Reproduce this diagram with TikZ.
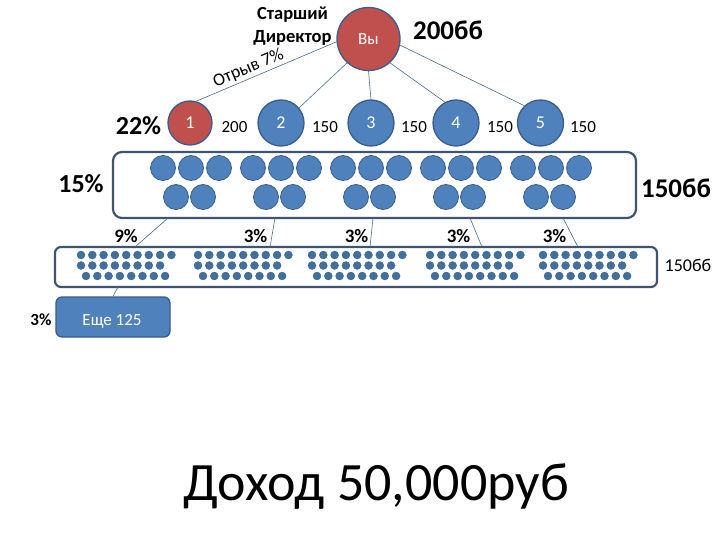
\documentclass[tikz,border=0pt]{standalone}
\usepackage{fontspec}
\setmainfont{Carlito}
\definecolor{cblue}{HTML}{4F81BD}
\definecolor{cborder}{HTML}{385D8A}
\definecolor{cred}{HTML}{C0504D}
\definecolor{boxline}{HTML}{3E5572}
\definecolor{dotblue}{HTML}{41709F}
\definecolor{conn}{HTML}{4A6C93}
\begin{document}
\begin{tikzpicture}[x=1pt,y=-1pt,
  bigc/.style={circle, draw=cborder, line width=1.3pt, fill=cblue, minimum size=#1, inner sep=0pt, text=white, font=\fontsize{18}{18}\selectfont},
  bigc/.default=46pt,
  redc/.style={bigc=#1, fill=cred},
  redc/.default=44pt,
  rowbox/.style={draw=boxline, line width=2.2pt, fill=white, inner sep=0pt},
  smallc/.style={draw=cborder, line width=0.8pt, fill=cblue},
  dot/.style={fill=dotblue, draw=cborder, line width=0.3pt},
  conn/.style={draw=conn, line width=0.6pt},
  lbl/.style={anchor=base, inner sep=0pt},
]
\useasboundingbox (0,0) rectangle (720,540);
\fill[white] (0,0) rectangle (720,540);

% top
\node[redc=63pt, font=\fontsize{17}{17}\selectfont] (vy) at (368.5,39) {Вы};
\node[lbl, font=\bfseries\fontsize{18.5}{18.5}\selectfont] (t1) at (292.5,20) {Старший};
\node[lbl, font=\bfseries\fontsize{18.5}{18.5}\selectfont] (t2) at (292.5,43) {Директор};
\node[lbl, font=\bfseries\fontsize{27}{27}\selectfont] (pts) at (448,40) {200бб};

% second level circles
\node[redc] (c1) at (190,123) {1};
\node[bigc] (c2) at (281,123) {2};
\node[bigc] (c3) at (371,123) {3};
\node[bigc] (c4) at (456,123) {4};
\node[bigc] (c5) at (540.5,123) {5};

\draw[conn] (vy.185) -- (c1.74) node[pos=0.6, above=2pt, sloped, font=\fontsize{18}{18}\selectfont, inner sep=0pt] (gap) {Отрыв 7\%};
\draw[conn] (vy.228) -- (c2.40);
\draw[conn] (vy.south) -- (c3.north);
\draw[conn] (vy.312) -- (c4.118);
\draw[conn] (vy.349) -- (c5.133);

\node[lbl, font=\bfseries\fontsize{26}{26}\selectfont] (p22) at (138.5,135) {22\%};
\node[lbl, font=\fontsize{17}{17}\selectfont] (va) at (234.5,133) {200};
\node[lbl, font=\fontsize{17}{17}\selectfont] (vb) at (325,133) {150};
\node[lbl, font=\fontsize{17}{17}\selectfont] (vc) at (414,133) {150};
\node[lbl, font=\fontsize{17}{17}\selectfont] (vd) at (500,133) {150};
\node[lbl, font=\fontsize{17}{17}\selectfont] (ve) at (583,133) {150};

% row 1 box
\node[rowbox, rounded corners=9pt, minimum width=523pt, minimum height=66pt] (row1) at (374.5,185) {};
\foreach \g in {163,253,343,433,523}{
  \foreach \o in {0,28,56} \draw[smallc] (\g+\o,168) circle (12.5);
  \foreach \o in {13,40} \draw[smallc] (\g+\o,197) circle (12.5);
}
\node[lbl, font=\bfseries\fontsize{26}{26}\selectfont] (p15) at (81,193) {15\%};
\node[lbl, font=\bfseries\fontsize{27}{27}\selectfont] (p150a) at (676,198) {150бб};

% connectors row1 -> row2
\coordinate (a1) at (168,218); \coordinate (b1) at (135,247);
\coordinate (a2) at (275,218); \coordinate (b2) at (270,247);
\coordinate (a3) at (373,218); \coordinate (b3) at (370,247);
\coordinate (a4) at (470,218); \coordinate (b4) at (482,247);
\coordinate (a5) at (563,218); \coordinate (b5) at (578,247);
\foreach \i in {1,...,5} \draw[conn] (a\i) -- (b\i);

\node[lbl, font=\bfseries\fontsize{19}{19}\selectfont] (q1) at (126,242) {9\%};
\node[lbl, font=\bfseries\fontsize{19}{19}\selectfont] (q2) at (255.5,242) {3\%};
\node[lbl, font=\bfseries\fontsize{19}{19}\selectfont] (q3) at (356.5,242) {3\%};
\node[lbl, font=\bfseries\fontsize{19}{19}\selectfont] (q4) at (458.5,242) {3\%};
\node[lbl, font=\bfseries\fontsize{19}{19}\selectfont] (q5) at (554.5,242) {3\%};

% row 2 box
\node[rowbox, rounded corners=6pt, minimum width=602pt, minimum height=40pt] (row2) at (356,267) {};
\foreach \g in {81,198,312,430,543}{
  \foreach \k in {0,...,8} \draw[dot] (\g+\k*11.3,255) circle (4);
  \foreach \k in {0,...,7} \draw[dot] (\g+\k*11.3,265.5) circle (4);
  \foreach \k in {0,...,7} \draw[dot] (\g+5+\k*11.3,276) circle (4);
}
\node[lbl, font=\fontsize{18}{18}\selectfont] (p150b) at (688,271) {150бб};

% more
\node[draw=cborder, line width=1.3pt, fill=cblue, rounded corners=6pt, minimum width=114pt, minimum height=40pt, inner sep=0pt] (more) at (113,317) {};
\node[lbl, text=white, font=\fontsize{17}{17}\selectfont] (moretxt) at (112,325) {Еще 125};
\coordinate (m1) at (118,287);
\draw[conn] (m1) -- (more.north);
\node[lbl, font=\bfseries\fontsize{17}{17}\selectfont] (p3) at (41,325) {3\%};

% income
\node[lbl, font=\fontsize{54}{54}\selectfont] (income) at (376,500) {Доход 50,000руб};
\end{tikzpicture}
\end{document}
